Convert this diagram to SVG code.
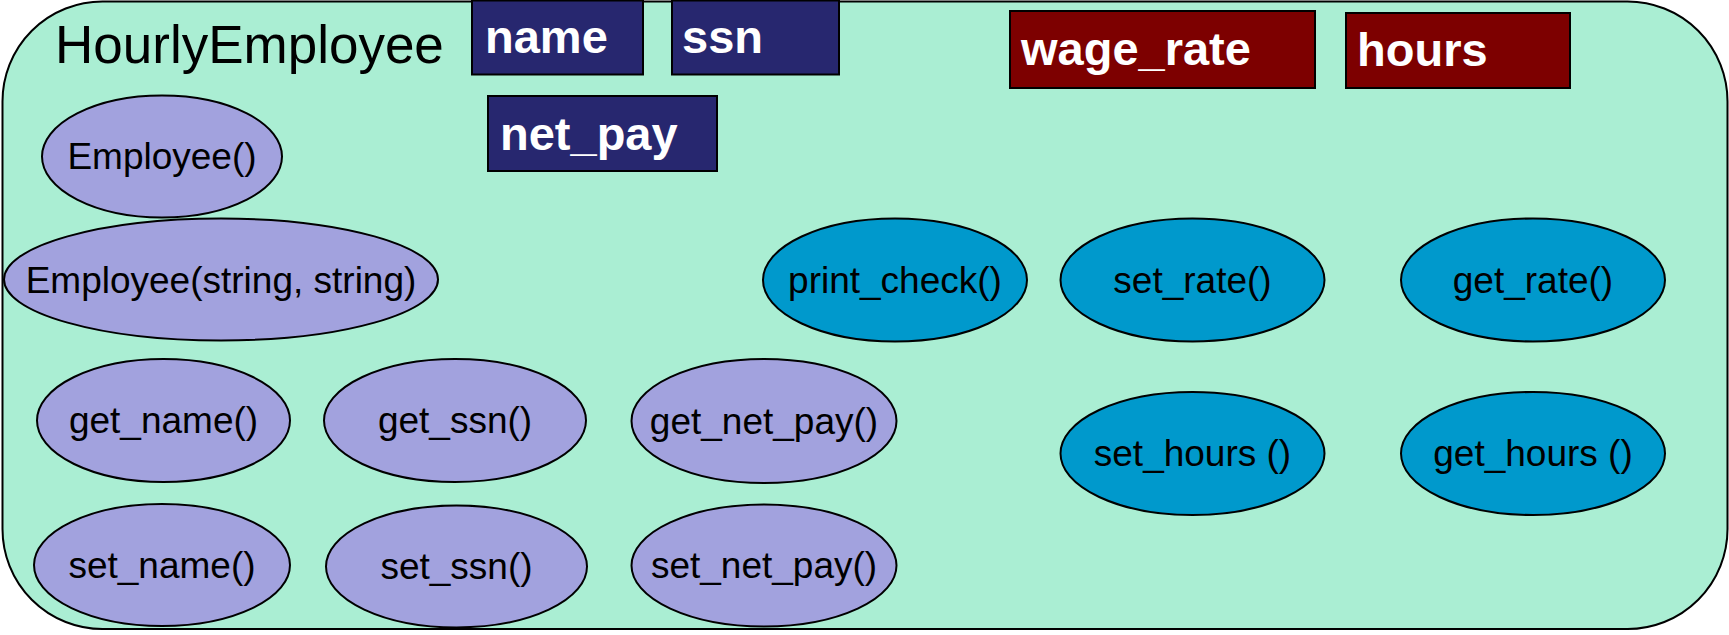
<svg xmlns="http://www.w3.org/2000/svg" width="1729" height="635" viewBox="0 0 1729 635">
  <style>
    .frame { fill: #aaeed3; stroke: #000; stroke-width: 2; }
    .base { fill: #a2a2de; stroke: #000; stroke-width: 2; }
    .own { fill: #0099cc; stroke: #000; stroke-width: 2; }
    .inherited { fill: #27276f; stroke: #000; stroke-width: 2; }
    .added { fill: #7d0000; stroke: #000; stroke-width: 2; }
    .title { font-family: "Liberation Sans", Arial, sans-serif; font-size: 53px; fill: #000; }
    .field { font-family: "Liberation Sans", Arial, sans-serif; font-size: 47px; font-weight: bold; fill: #fff; }
    .method { font-family: "Liberation Sans", Arial, sans-serif; font-size: 37px; fill: #000; text-anchor: middle; }
  </style>

  <!-- class boundary -->
  <g id="hourly-employee">
    <rect class="frame" x="2.5" y="1.5" width="1725" height="627.5" rx="100" ry="100"/>
    <text class="title" x="55" y="63">HourlyEmployee</text>
  </g>

  <!-- member variables inherited from Employee -->
  <g id="field-name">
    <rect class="inherited" x="472" y="0.5" width="171" height="74"/>
    <text class="field" x="485" y="53">name</text>
  </g>
  <g id="field-ssn">
    <rect class="inherited" x="672" y="0.5" width="167" height="74"/>
    <text class="field" x="682" y="53">ssn</text>
  </g>
  <g id="field-net-pay">
    <rect class="inherited" x="488" y="96" width="229" height="75"/>
    <text class="field" x="500" y="150">net_pay</text>
  </g>

  <!-- member variables added by HourlyEmployee -->
  <g id="field-wage-rate">
    <rect class="added" x="1010" y="11" width="305" height="77"/>
    <text class="field" x="1021" y="65">wage_rate</text>
  </g>
  <g id="field-hours">
    <rect class="added" x="1346" y="13" width="224" height="75"/>
    <text class="field" x="1357" y="66">hours</text>
  </g>

  <!-- inherited member functions -->
  <g id="fn-employee">
    <ellipse class="base" cx="162" cy="156.5" rx="120" ry="61"/>
    <text class="method" x="162" y="169">Employee()</text>
  </g>
  <g id="fn-employee-args">
    <ellipse class="base" cx="221" cy="279.5" rx="217" ry="61"/>
    <text class="method" x="221" y="292.5">Employee(string, string)</text>
  </g>
  <g id="fn-get-name">
    <ellipse class="base" cx="163.5" cy="420.5" rx="126.5" ry="61.5"/>
    <text class="method" x="163.5" y="433">get_name()</text>
  </g>
  <g id="fn-get-ssn">
    <ellipse class="base" cx="455" cy="420.5" rx="131" ry="61.5"/>
    <text class="method" x="455" y="433">get_ssn()</text>
  </g>
  <g id="fn-get-net-pay">
    <ellipse class="base" cx="764" cy="421" rx="132.5" ry="62"/>
    <text class="method" x="764" y="433.5">get_net_pay()</text>
  </g>
  <g id="fn-set-name">
    <ellipse class="base" cx="162" cy="565" rx="128" ry="61"/>
    <text class="method" x="162" y="577.5">set_name()</text>
  </g>
  <g id="fn-set-ssn">
    <ellipse class="base" cx="456.5" cy="566.5" rx="130.5" ry="61"/>
    <text class="method" x="456.5" y="579">set_ssn()</text>
  </g>
  <g id="fn-set-net-pay">
    <ellipse class="base" cx="764" cy="565.5" rx="132.5" ry="61"/>
    <text class="method" x="764" y="578">set_net_pay()</text>
  </g>

  <!-- member functions defined or redefined in HourlyEmployee -->
  <g id="fn-print-check">
    <ellipse class="own" cx="895" cy="280" rx="132" ry="61.5"/>
    <text class="method" x="895" y="292.5">print_check()</text>
  </g>
  <g id="fn-set-rate">
    <ellipse class="own" cx="1192.5" cy="280" rx="132" ry="61.5"/>
    <text class="method" x="1192.5" y="292.5">set_rate()</text>
  </g>
  <g id="fn-get-rate">
    <ellipse class="own" cx="1533" cy="280" rx="132" ry="61.5"/>
    <text class="method" x="1533" y="292.5">get_rate()</text>
  </g>
  <g id="fn-set-hours">
    <ellipse class="own" cx="1192.5" cy="453.5" rx="132" ry="61.5"/>
    <text class="method" x="1192.5" y="466">set_hours ()</text>
  </g>
  <g id="fn-get-hours">
    <ellipse class="own" cx="1533" cy="453.5" rx="132" ry="61.5"/>
    <text class="method" x="1533" y="466">get_hours ()</text>
  </g>

  <!-- no connectors in this diagram -->
  <g id="connectors"/>
</svg>
